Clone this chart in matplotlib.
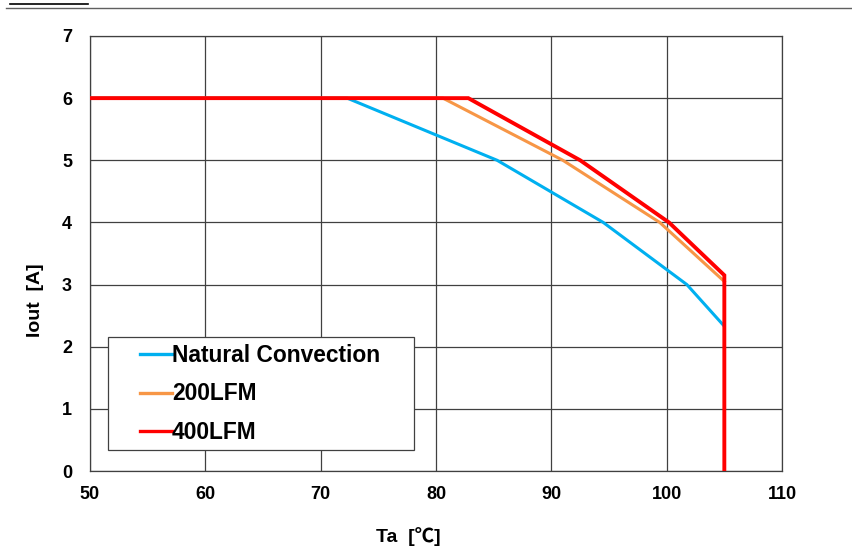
import matplotlib
matplotlib.use("Agg")
import matplotlib.pyplot as plt
from matplotlib.lines import Line2D
from matplotlib.patches import Rectangle

plt.rcParams['font.family'] = ['Liberation Sans', 'DejaVu Sans']

nc_x = [50, 72.3, 85.3, 94.5, 101.75, 104.9]
nc_y = [6, 6, 5, 4, 3, 2.35]
lfm200_x = [50, 80.6, 91.0, 99.4, 105.0]
lfm200_y = [6, 6, 5, 4, 3.05]
lfm400_x = [50, 82.8, 92.5, 100.2, 105.0, 105.0]
lfm400_y = [6, 6, 5, 4, 3.15, 0]
labels = ["Natural Convection", "200LFM", "400LFM"]
colors = ['#00b0f0', '#f79646', '#ff0000']
xticks = [50, 60, 70, 80, 90, 100, 110]
yticks = [0, 1, 2, 3, 4, 5, 6, 7]

W, H = 852, 552
fig = plt.figure(figsize=(W / 100, H / 100), dpi=100)
ax = fig.add_axes([90 / W, 81 / H, 692 / W, 435 / H])

ax.plot(nc_x, nc_y, color=colors[0], lw=2.2, solid_joinstyle='miter', zorder=3)
ax.plot(lfm200_x, lfm200_y, color=colors[1], lw=2.2, solid_joinstyle='miter', zorder=4)
ax.plot(lfm400_x, lfm400_y, color=colors[2], lw=2.8, solid_joinstyle='miter', zorder=5)

ax.set_xlim(50, 110)
ax.set_ylim(0, 7)
ax.set_xticks(xticks)
ax.set_yticks(yticks)
ax.grid(True, color='#404040', lw=0.9)
ax.set_axisbelow(True)
for s in ax.spines.values():
    s.set_color('#404040')
    s.set_linewidth(0.9)
ax.tick_params(length=0, labelsize=13)
ax.tick_params(axis='x', pad=11)
ax.tick_params(axis='y', pad=13)
for t in ax.get_xticklabels() + ax.get_yticklabels():
    t.set_fontweight('bold')

fig.text(408 / W, 1 - 537 / H, 'Ta  [℃]', fontsize=14, fontweight='bold', ha='center', va='center',
         family=['Liberation Sans', 'Noto Sans CJK JP', 'DejaVu Sans'])
fig.text(35 / W, 1 - 300 / H, 'Iout  [A]', fontsize=14, fontweight='bold', ha='center', va='center',
         rotation=90)

# legend frame
fig.add_artist(Rectangle((108 / W, 1 - 450 / H), 306 / W, 113 / H, transform=fig.transFigure,
                         facecolor='white', edgecolor='#404040', lw=0.9, zorder=9))
handles = [Line2D([], [], color=c, lw=2.4) for c in colors]
leg = fig.legend(handles, labels, loc='center left', bbox_to_anchor=(140 / W, 1 - 394 / H),
                 frameon=False, prop={'weight': 'bold', 'size': 16.4}, handlelength=1.4,
                 handletextpad=0.0, borderaxespad=0, borderpad=0, labelspacing=0.67)
leg.set_zorder(10)

# header separator line and clipped title underline
fig.add_artist(Line2D([6 / W, 1.0], [1 - 8 / H, 1 - 8 / H], color='#606060', lw=1.0))
fig.add_artist(Line2D([10 / W, 88 / W], [1 - 4 / H, 1 - 4 / H], color='black', lw=1.2))

fig.savefig('out.png', dpi=100)
